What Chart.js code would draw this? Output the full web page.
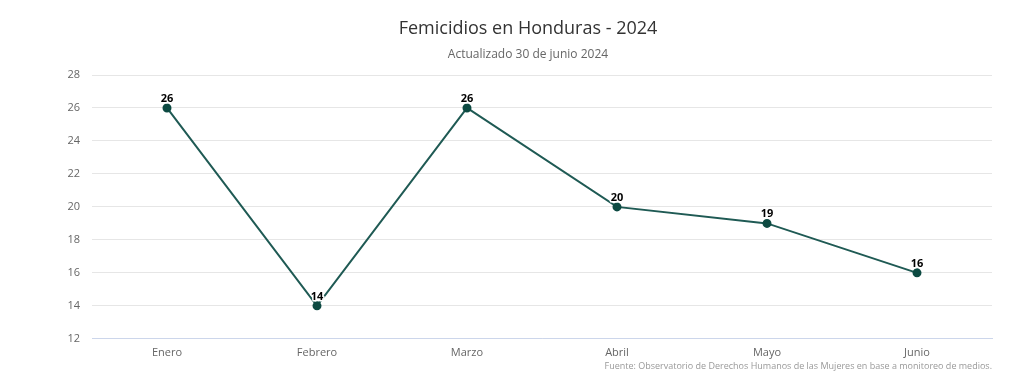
<!DOCTYPE html>
<html>
<head>
<meta charset="utf-8">
<script src="https://cdn.jsdelivr.net/npm/chart.js@4"></script>
<style>
  html, body { margin: 0; padding: 0; background: #fff; }
  #wrap { position: relative; width: 1024px; height: 386px; }
</style>
</head>
<body>
<div id="wrap"><canvas id="chart" width="1024" height="386"></canvas></div>
<script>
// =====================
// DATA
// =====================
const months = ["Enero", "Febrero", "Marzo", "Abril", "Mayo", "Junio"];
const femicidios = [26, 14, 26, 20, 19, 16];
const yTicks = [12, 14, 16, 18, 20, 22, 24, 26, 28];

const FONT = "'Open Sans', 'DejaVu Sans', sans-serif";

// data labels + credits
const labelPlugin = {
  id: "labels",
  afterDatasetsDraw(chart) {
    const ctx = chart.ctx;
    const meta = chart.getDatasetMeta(0);
    ctx.save();
    ctx.font = "bold 11px " + FONT;
    ctx.textAlign = "center";
    ctx.textBaseline = "alphabetic";
    meta.data.forEach((pt, i) => {
      const txt = String(femicidios[i]);
      ctx.lineWidth = 3;
      ctx.strokeStyle = "#fff";
      ctx.lineJoin = "round";
      ctx.strokeText(txt, pt.x, pt.y - 6);
      ctx.fillStyle = "#000";
      ctx.fillText(txt, pt.x, pt.y - 6);
    });
    ctx.font = "9px " + FONT;
    ctx.fillStyle = "#999";
    ctx.textAlign = "right";
    ctx.fillText("Fuente: Observatorio de Derechos Humanos de las Mujeres en base a monitoreo de medios.", 992, 369);
    ctx.restore();
  }
};

new Chart(document.getElementById("chart"), {
  type: "line",
  data: {
    labels: months,
    datasets: [{
      data: femicidios,
      borderColor: "#1f5a54",
      borderWidth: 2,
      pointBackgroundColor: "#0d4a42",
      pointBorderColor: "#0d4a42",
      pointRadius: 3.5,
      tension: 0
    }]
  },
  options: {
    responsive: false,
    animation: false,
    layout: { padding: { left: 64, right: 32, top: 0, bottom: 20 } },
    plugins: {
      legend: { display: false },
      tooltip: { enabled: false },
      title: {
        display: true,
        text: "Femicidios en Honduras - 2024",
        color: "#333",
        font: { family: FONT, size: 18, weight: "normal" },
        padding: { top: 18, bottom: 8 }
      },
      subtitle: {
        display: true,
        text: "Actualizado 30 de junio 2024",
        color: "#666",
        font: { family: FONT, size: 12, weight: "normal" },
        padding: { top: 0, bottom: 13 }
      }
    },
    scales: {
      x: {
        offset: true,
        grid: { display: false, drawTicks: false },
        border: { display: true, color: "#ccd6eb" },
        ticks: { color: "#666", font: { family: FONT, size: 11 }, padding: 7 }
      },
      y: {
        min: 12,
        max: 28,
        afterFit(scale) { scale.width = 28; },
        afterBuildTicks(scale) { scale.ticks = yTicks.map(v => ({ value: v })); },
        grid: { color: "#e6e6e6", drawTicks: false },
        border: { display: false },
        ticks: { color: "#666", font: { family: FONT, size: 11 }, padding: 12 }
      }
    }
  },
  plugins: [labelPlugin]
});
</script>
</body>
</html>
